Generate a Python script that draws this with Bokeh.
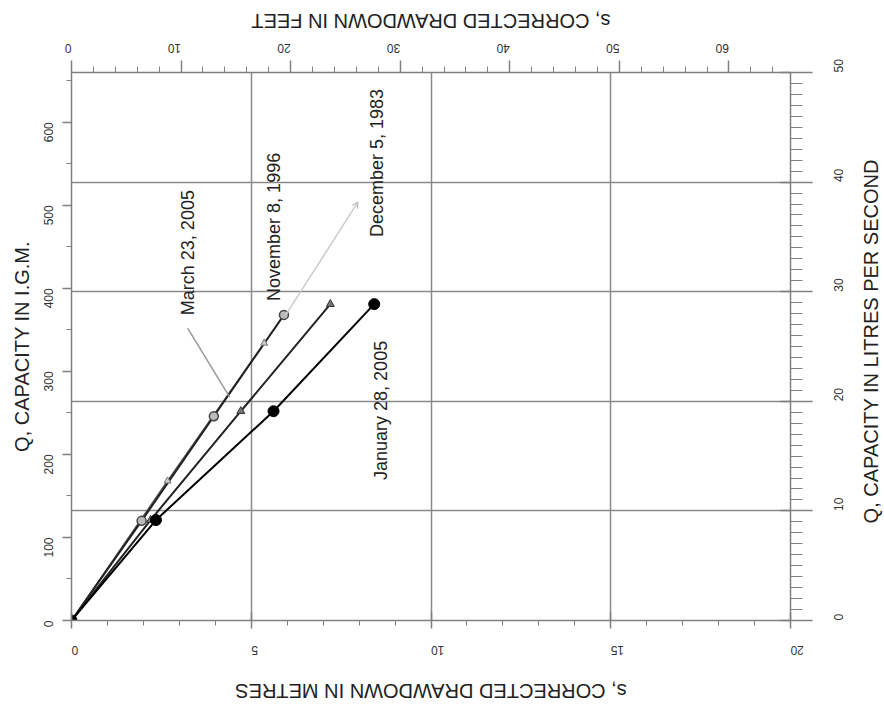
import math
from bokeh.plotting import figure
from bokeh.layouts import column, row
from bokeh.models import LinearAxis, Range1d, FixedTicker, Grid, Arrow, OpenHead
from bokeh.core.properties import value
from bokeh.embed import file_html
from bokeh.resources import INLINE

# ---- data (drawdown s in metres, capacity Q in Imperial gallons per minute)
jan_s = [0, 2.35, 5.62, 8.42]
jan_q = [0, 121, 252, 381]
nov_s = [0, 2.2, 4.71, 7.2]
nov_q = [0, 121, 252, 381]
mar_s = [0, 1.95, 3.96, 5.91]
mar_q = [0, 120, 246, 368]
dec_s = [0, 2.67, 5.36]
dec_q = [0, 168, 334]

series_names = ["January 28, 2005", "November 8, 1996", "March 23, 2005", "December 5, 1983"]

# axis ticks
metre_ticks = [0, 5, 10, 15, 20]
feet_ticks = [0, 10, 20, 30, 40, 50, 60]
igm_ticks = [0, 100, 200, 300, 400, 500, 600]
lps_ticks = [0, 10, 20, 30, 40, 50]

METRE_TO_FEET = 3.28084
IGM_TO_LPS = 0.0757682
S_MAX = 20
LPS_MAX = 50

# annotation placement (data coords)
label_pos = {
    "January 28, 2005": (8.62, 253),
    "November 8, 1996": (5.62, 474),
    "March 23, 2005": (3.23, 443),
    "December 5, 1983": (8.51, 551),
}
mar_leader = ((3.23, 352), (4.40, 269))
dec_leader = ((5.96, 368), (7.97, 504))

TITLE_BOTTOM = "s, CORRECTED DRAWDOWN IN METRES"
TITLE_TOP = "s, CORRECTED DRAWDOWN IN FEET"
TITLE_LEFT = "Q, CAPACITY IN I.G.M."
TITLE_RIGHT = "Q, CAPACITY IN LITRES PER SECOND"

# ---- page geometry
PAGE_W, PAGE_H = 884, 712
FRAME_L, FRAME_T, FRAME_W, FRAME_H = 71, 72, 719, 548
TOP_H, BOTTOM_H, RIGHT_W = 34, 42, 28
MAIN_W = PAGE_W - RIGHT_W
MAIN_H = PAGE_H - TOP_H - BOTTOM_H

FONT = "Liberation Sans"
AX = "#808080"
TITLE_SIZE = "20px"

p = figure(width=MAIN_W, height=MAIN_H,
           x_range=Range1d(0, S_MAX), y_range=Range1d(0, LPS_MAX / IGM_TO_LPS),
           output_backend="svg", toolbar_location=None,
           min_border_left=FRAME_L, min_border_top=FRAME_T - TOP_H,
           min_border_right=MAIN_W - FRAME_L - FRAME_W,
           min_border_bottom=MAIN_H - (FRAME_T - TOP_H) - FRAME_H)
p.outline_line_color = None
p.background_fill_color = "white"
p.border_fill_color = "white"

p.extra_x_ranges = {"ft": Range1d(0, S_MAX * METRE_TO_FEET)}
p.extra_y_ranges = {"lps": Range1d(0, LPS_MAX)}


def style_axis(ax, orient):
    ax.axis_line_color = AX
    ax.axis_line_width = 1.5
    ax.major_tick_line_color = AX
    ax.minor_tick_line_color = AX
    ax.major_tick_line_width = 1.5
    ax.major_label_text_font = FONT
    ax.major_label_text_font_size = "12px"
    ax.major_label_text_color = "#333333"
    ax.major_label_orientation = orient
    ax.axis_label_text_font = FONT
    ax.axis_label_text_font_size = TITLE_SIZE
    ax.axis_label_text_font_style = "normal"
    ax.axis_label_text_color = "#222222"


# bottom axis (metres)
bx = p.xaxis[0]
bx.ticker = FixedTicker(ticks=metre_ticks, minor_ticks=list(range(0, S_MAX + 1)))
style_axis(bx, math.pi)
bx.major_tick_in = 8
bx.major_tick_out = 8
bx.minor_tick_in = 0
bx.minor_tick_out = 5
bx.major_label_standoff = 22

# left axis (IGM)
ly = p.yaxis[0]
ly.ticker = FixedTicker(ticks=igm_ticks, minor_ticks=list(range(0, 651, 50)))
style_axis(ly, math.pi / 2)
ly.axis_label = TITLE_LEFT
ly.axis_label_standoff = 4
ly.major_tick_in = 0
ly.major_tick_out = 9
ly.minor_tick_in = 0
ly.minor_tick_out = 5
ly.major_label_standoff = 14

# top axis (feet)
tx = LinearAxis(x_range_name="ft",
                ticker=FixedTicker(ticks=feet_ticks, minor_ticks=list(range(0, 66, 2))))
style_axis(tx, math.pi)
tx.major_tick_in = 0
tx.major_tick_out = 12
tx.minor_tick_in = 0
tx.minor_tick_out = 6
tx.major_label_standoff = 12
p.add_layout(tx, "above")

# right axis (L/s)
ry = LinearAxis(y_range_name="lps",
                ticker=FixedTicker(ticks=lps_ticks, minor_ticks=list(range(0, LPS_MAX + 1))))
style_axis(ry, math.pi / 2)
ry.major_tick_in = 10
ry.major_tick_out = 22
ry.minor_tick_in = 0
ry.minor_tick_out = 12
ry.major_label_standoff = 26
p.add_layout(ry, "right")

# grids
p.xgrid.ticker = FixedTicker(ticks=metre_ticks[1:-1])
p.xgrid.grid_line_color = "#8a8a8a"
p.xgrid.grid_line_width = 1.5
p.ygrid.visible = False
g = Grid(dimension=1, y_range_name="lps", ticker=FixedTicker(ticks=lps_ticks[1:-1]),
         grid_line_color="#8a8a8a", grid_line_width=1.5)
p.add_layout(g)

# series
p.line(dec_s, dec_q, line_color="#555555", line_width=1.5)
p.line(mar_s, mar_q, line_color="#222222", line_width=2)
p.line(nov_s, nov_q, line_color="#222222", line_width=2)
p.line(jan_s, jan_q, line_color="black", line_width=2)

p.scatter(dec_s[1:], dec_q[1:], marker="triangle", size=7, fill_color="#cccccc", line_color="#777777")
p.scatter(mar_s[1:], mar_q[1:], marker="circle", size=9, fill_color="#bbbbbb", line_color="#444444", line_width=1.5)
p.scatter(nov_s[1:], nov_q[1:], marker="triangle", size=8, fill_color="#777777", line_color="#333333")
p.scatter(jan_s, jan_q, marker="circle", size=11, fill_color="black", line_color="black")

# leader lines
p.segment(x0=[mar_leader[0][0]], y0=[mar_leader[0][1]], x1=[mar_leader[1][0]], y1=[mar_leader[1][1]],
          line_color="#999999", line_width=1.5)
p.add_layout(Arrow(end=OpenHead(size=6, line_color="#aaaaaa", line_width=1),
                   x_start=dec_leader[0][0], y_start=dec_leader[0][1],
                   x_end=dec_leader[1][0], y_end=dec_leader[1][1],
                   line_color="#cccccc", line_width=1.5))

# series labels
for name in series_names:
    x, y = label_pos[name]
    p.text(x=[x], y=[y], text=[name], angle=math.pi / 2,
           text_align="center", text_baseline="middle",
           text_font=value(FONT), text_font_size="18px", text_color="#222222")


# ---- title strips (pixel-unit figures holding the rotated axis titles)
def strip(w, h):
    s = figure(width=w, height=h, x_range=Range1d(0, w), y_range=Range1d(0, h),
               output_backend="svg", toolbar_location=None, min_border=0,
               x_axis_location=None, y_axis_location=None)
    s.grid.visible = False
    s.outline_line_color = None
    s.background_fill_color = "white"
    s.border_fill_color = "white"
    return s


def put_title(s, x, y, text, angle):
    s.text(x=[x], y=[y], text=[text], angle=angle,
           text_align="center", text_baseline="middle",
           text_font=value(FONT), text_font_size=TITLE_SIZE, text_color="#222222")


frame_cx = FRAME_L + FRAME_W / 2
frame_cy_page = FRAME_T + FRAME_H / 2

top_strip = strip(PAGE_W, TOP_H)
put_title(top_strip, frame_cx, TOP_H - 20, TITLE_TOP, math.pi)

bottom_strip = strip(PAGE_W, BOTTOM_H)
put_title(bottom_strip, frame_cx, BOTTOM_H - 20, TITLE_BOTTOM, math.pi)

right_strip = strip(RIGHT_W, MAIN_H)
put_title(right_strip, RIGHT_W / 2, MAIN_H - (frame_cy_page - TOP_H), TITLE_RIGHT, math.pi / 2)

layout = column(top_strip, row(p, right_strip, spacing=0), bottom_strip, spacing=0)

open("out.html", "w").write(file_html(layout, INLINE))
